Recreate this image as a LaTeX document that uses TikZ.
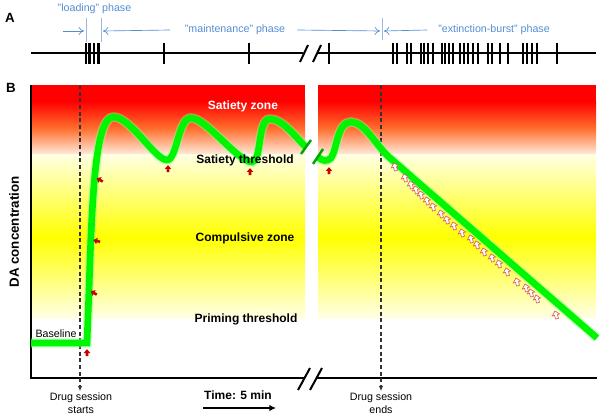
\documentclass[tikz,border=0pt]{standalone}
\usepackage{fontspec}
\setmainfont{Liberation Sans}
\usepackage{tikz}
\usetikzlibrary{arrows.meta,positioning}
\definecolor{phaseblue}{RGB}{84,141,212}
\definecolor{darkred}{RGB}{200,0,0}
\definecolor{pinkline}{RGB}{215,95,95}
\definecolor{curvegreen}{RGB}{0,245,0}
\definecolor{midorange}{RGB}{255,110,45}
\definecolor{paleorange}{RGB}{255,238,225}
\definecolor{paleyellow}{RGB}{255,255,225}
\definecolor{paleyellowb}{RGB}{255,255,230}
\tikzset{
	>=latex,
	tick/.style = {line width=1.6pt},
	axis/.style = {line width=1.5pt},
	panel/.style = {font=\bfseries\fontsize{10}{12}\selectfont},
	phase/.style = {text=phaseblue, inner sep=0pt, font=\fontsize{8}{9}\selectfont},
	phasearrow/.style = {draw=phaseblue, line width=0.5pt, -{To[length=4pt,width=6pt]}},
	phaseline/.style = {draw=phaseblue!60, line width=0.4pt},
	zone/.style = {font=\bfseries\fontsize{9}{10}\selectfont},
	small/.style = {font=\fontsize{8}{9.5}\selectfont, align=center, inner sep=1pt},
	session/.style = {draw=black!80, line width=0.8pt, dash pattern=on 3pt off 2pt, -{Latex[length=4pt,width=3.5pt]}},
	curve/.style = {draw=curvegreen, line width=5pt,
			preaction={draw=green!45, line width=7pt, opacity=0.5}},
	slash/.style = {draw=green!65!black, line width=1.8pt},
	redarrow/.pic = {
			\fill[darkred] (-1.3,3.2) -- (1.3,3.2) -- (1.3,0) -- (3.3,0) -- (0,-3.8) -- (-3.3,0) -- (-1.3,0) -- cycle;
		},
	whitearrow/.pic = {
			\filldraw[fill=white, draw=pinkline, line width=0.5pt] (-1.5,3.8) -- (1.5,3.8) -- (1.5,0) -- (3.8,0) -- (0,-4.2) -- (-3.8,0) -- (-1.5,0) -- cycle;
		},
}

\begin{document}
\begin{tikzpicture}[x=0.75pt, y=-0.75pt]
		\useasboundingbox (0,0) rectangle (609,420);

		% panel A: timeline of lever presses
		\node[panel] (lblA) at (10,18) {A};
		\draw[axis] (31,53) -- (303,53);
		\draw[axis] (318,53) -- (596,53);
		\draw[axis] (300,62) -- (308,45);
		\draw[axis] (313,62) -- (321,45);
		\foreach \x in {86,89.5,94,98.5,164,249,329,393,397,407,411,421,424,428,433,442,445,449,453,460,464,468,473,478,488,492,500,508,523,527,532,537,557}
			\draw[tick] (\x,43) -- (\x,64);

		\node[phase] (loadLbl) at (94.5,9) {"loading" phase};
		\node[phase] (maintLbl) at (235,30) {"maintenance" phase};
		\node[phase] (burstLbl) at (494,30) {"extinction-burst" phase};

		\draw[phaseline] (86,18) -- (86,42);
		\draw[phaseline] (101,18) -- (101,42);
		\draw[phaseline] (382,18) -- (382,40);

		\coordinate (loadIn) at (63,31);
		\coordinate (loadEnd) at (84,31);
		\coordinate (maintStart) at (103,31);
		\coordinate (maintEnd) at (380,31);
		\coordinate (burstStart) at (384,31);

		\draw[phasearrow] (loadIn) -- (loadEnd);
		\draw[phasearrow] ([xshift=-11pt]maintLbl.west) -- (maintStart);
		\draw[phasearrow] ([xshift=9pt]maintLbl.east) -- (maintEnd);
		\draw[phasearrow] ([xshift=-8pt]burstLbl.west) -- (burstStart);

		% panel B: zones
		\node[panel] (lblB) at (11,88) {B};
		\foreach \xa/\xb in {31/305, 318/596} {
				\fill[red] (\xa,85) rectangle (\xb,102);
				\shade[top color=red, bottom color=paleorange, middle color=midorange] (\xa,101.5) rectangle (\xb,155);
				\shade[top color=paleyellow, bottom color=yellow] (\xa,155) rectangle (\xb,237.5);
				\shade[top color=yellow, bottom color=paleyellowb] (\xa,237) rectangle (\xb,318);
			}

		% axes
		\draw[axis] (31,85) -- (31,378) -- (304,378);
		\draw[axis] (316,378) -- (597,378);
		\draw[axis] (298,390) -- (310,368);
		\draw[axis] (310,390) -- (322,368);

		% session marks
		\node[small] (startLbl) at (81,403) {Drug session\\starts};
		\node[small] (endLbl) at (381,403) {Drug session\\ends};
		\coordinate (startTop) at (80,85);
		\coordinate (endTop) at (381,85);
		\draw[session] (startTop) -- (startLbl.north -| startTop);
		\draw[session] (endTop) -- (endLbl.north -| endTop);

		% DA curve
		\draw[curve] (31,343) -- (87,343) -- (89,290)
			.. controls (92,200) and (95,118) .. (113,117)
			.. controls (130,116) and (155,160) .. (167,160)
			.. controls (177,160) and (178,118) .. (191,118)
			.. controls (206,118) and (238,162) .. (252,162)
			.. controls (262,162) and (257,119) .. (270,119)
			.. controls (283,119) and (296,138) .. (306,147);
		\draw[curve] (318,157) .. controls (322,161) and (327,162) .. (331,158)
			.. controls (337,150) and (337,122) .. (351,122)
			.. controls (365,122) and (376,146) .. (390,158) -- (597,338);
		\draw[slash] (301,154) -- (311,140);
		\draw[slash] (313,164) -- (323,149);

		% drug infusions
		\pic at (87,353) {redarrow};
		\pic at (168,169) {redarrow};
		\pic at (250,172) {redarrow};
		\pic at (329,171) {redarrow};
		\pic[rotate=60] at (100,180) {redarrow};
		\pic[rotate=75] at (97,241) {redarrow};
		\pic[rotate=60] at (94,293) {redarrow};

		% lever presses without drug
		\foreach \x/\y in {395/167,405/178,411/185,416/190,421/195,427/201,433/207,441/214,447/220,454/226,462/233,471/239,477/245,484/252,492/258,499/264,507/272,517/282,526/288,531/293,537/299,556/315}
			\pic[rotate=15] at (\x,\y) {whitearrow};

		% labels
		\node[zone, text=white] (satZone) at (243,106) {Satiety zone};
		\node[zone] (satThr) at (245,160) {Satiety threshold};
		\node[zone] (compZone) at (245,238) {Compulsive zone};
		\node[zone] (primThr) at (246,319) {Priming threshold};
		\node[small] (baseLbl) at (56,334) {Baseline};
		\node[font=\bfseries\fontsize{10}{12}\selectfont, rotate=90] (yLbl) at (14,232) {DA concentration};

		\node[zone] (timeLbl) at (238,395) {Time: 5 min};
		\coordinate (timeFrom) at (203,408);
		\coordinate (timeTo) at (276,408);
		\draw[line width=1.8pt, -{Latex[length=5pt,width=5pt]}] (timeFrom) -- (timeTo);
	\end{tikzpicture}
\end{document}
